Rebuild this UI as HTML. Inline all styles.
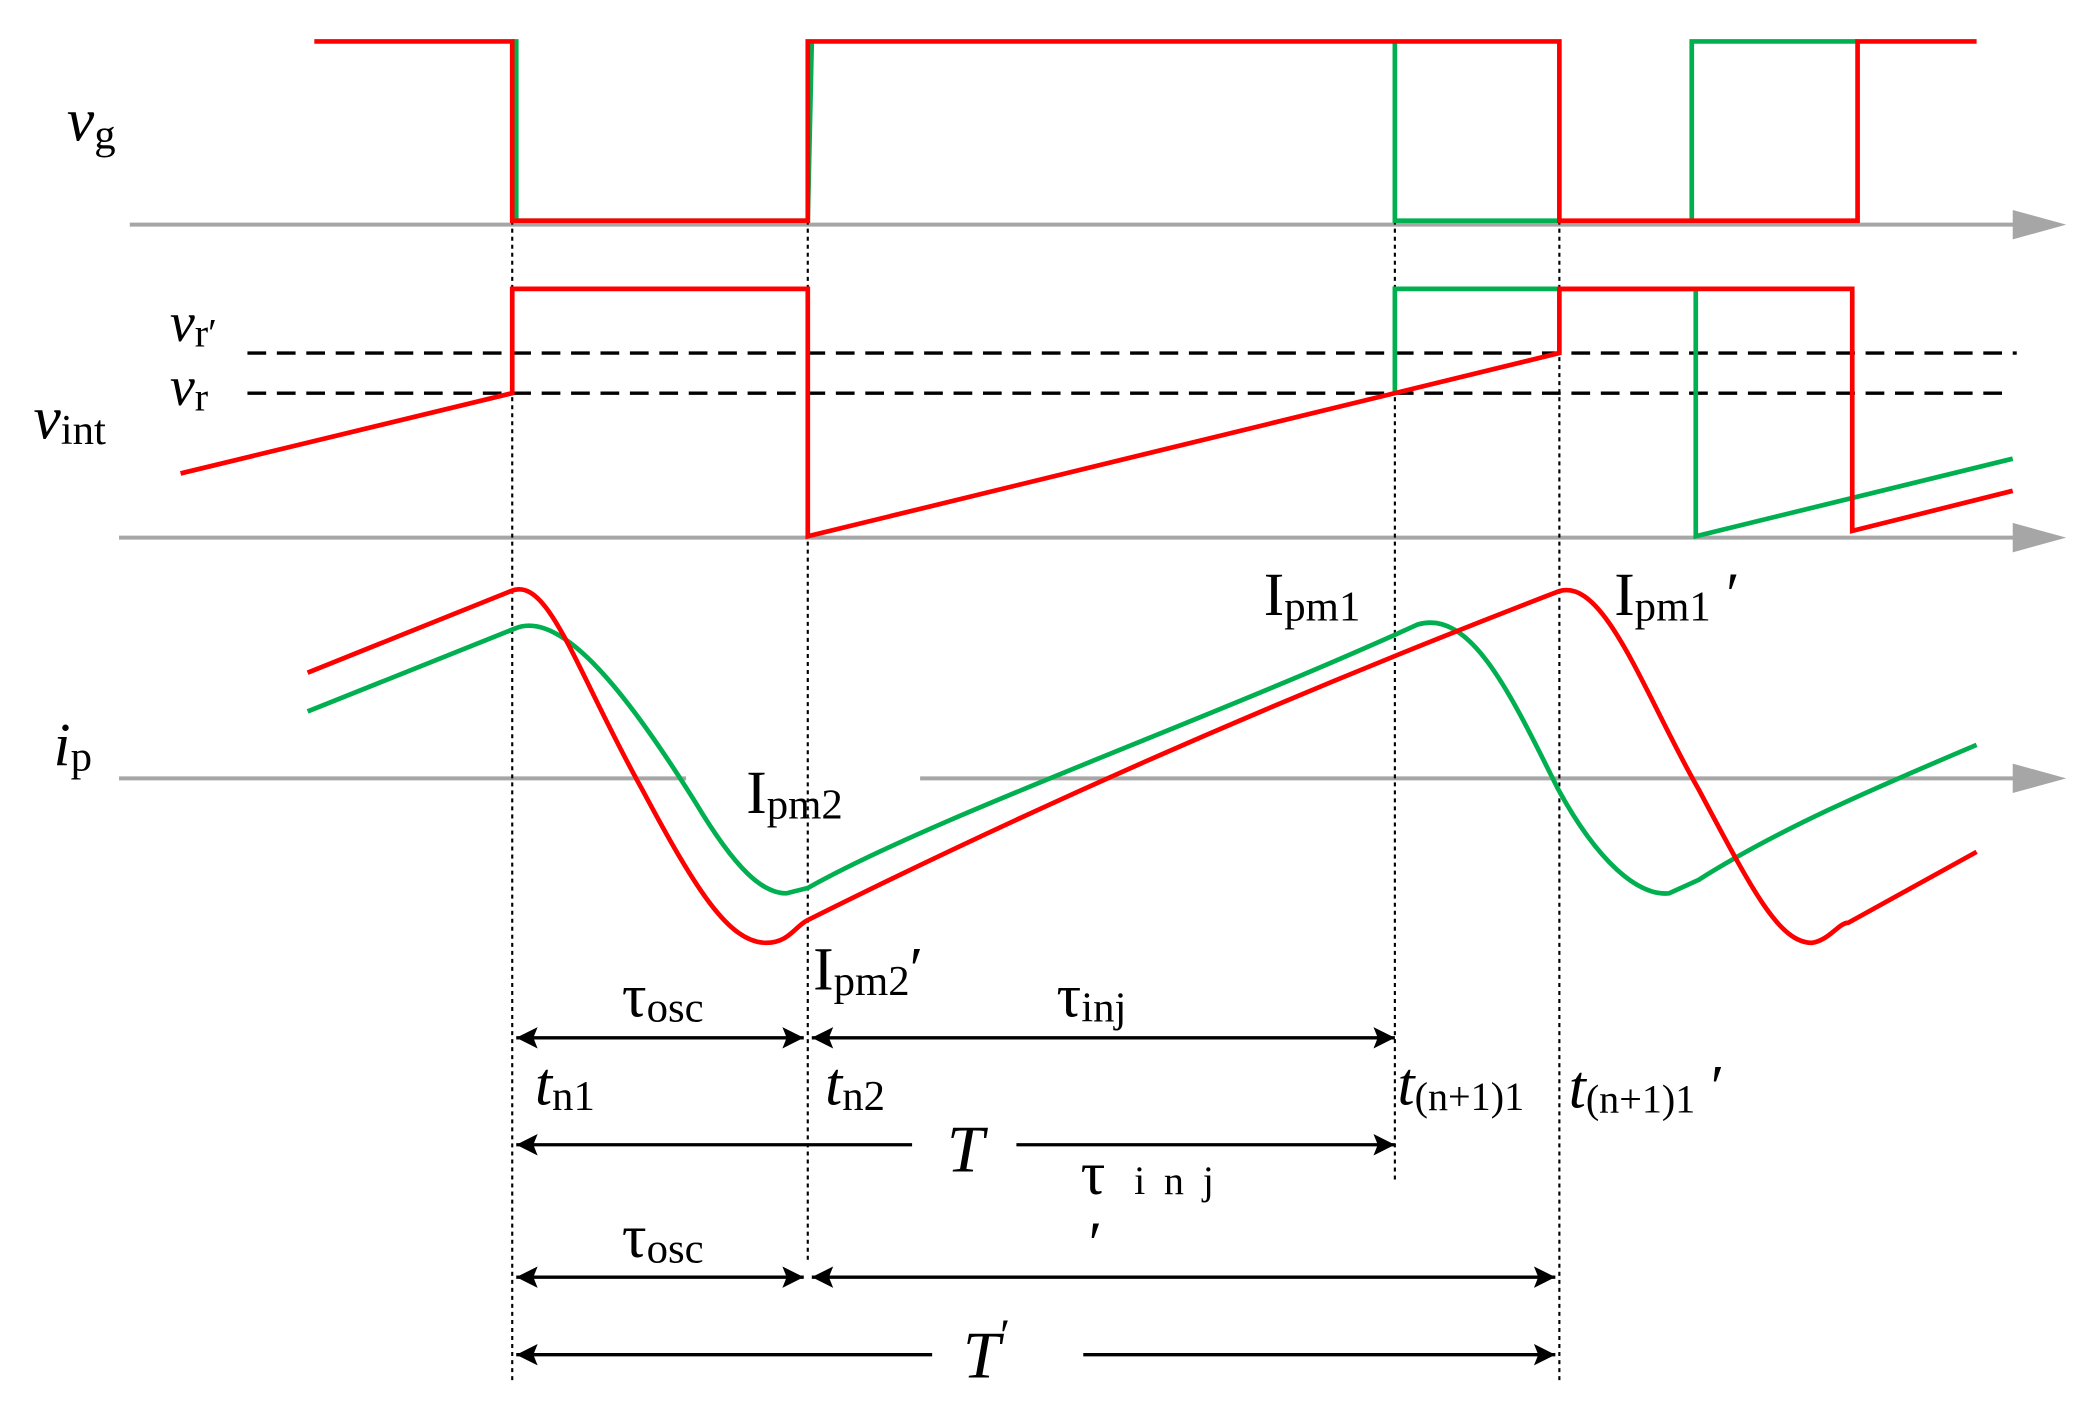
<!DOCTYPE html>
<html><head><meta charset="utf-8"><style>
html,body{margin:0;padding:0;background:#fff;}
svg{display:block;}
text{font-family:"Liberation Serif",serif;fill:#000;}
.it{font-style:italic;}
</style></head><body>
<svg width="2097" height="1405" viewBox="0 0 1568 1050.6" xmlns="http://www.w3.org/2000/svg">
<defs>
<marker id="ah" viewBox="0 0 10 10" refX="10" refY="5" markerWidth="22" markerHeight="16" markerUnits="userSpaceOnUse" orient="auto-start-reverse"><path d="M0,0 L10,5 L0,10 L2,5 Z" fill="#000"/></marker>
</defs>
<g stroke="#a6a6a6" stroke-width="3" fill="none">
<line x1="97" y1="168" x2="1512" y2="168"/>
<line x1="89" y1="402" x2="1512" y2="402"/>
<line x1="89" y1="582" x2="513" y2="582"/>
<line x1="688" y1="582" x2="1512" y2="582"/>
</g>
<g fill="#a6a6a6">
<path d="M1505,157 L1545,168 L1505,179 Z"/>
<path d="M1505,391 L1545,402 L1505,413 Z"/>
<path d="M1505,571 L1545,582 L1505,593 Z"/>
</g>
<g stroke="#000" stroke-width="2.5" stroke-dasharray="14,8">
<line x1="185" y1="264" x2="1508" y2="264"/>
<line x1="185" y1="294" x2="1497" y2="294"/>
</g>
<g stroke="#000" stroke-width="1.6" stroke-dasharray="3,3">
<line x1="383" y1="165" x2="383" y2="1032"/>
<line x1="604" y1="165" x2="604" y2="945"/>
<line x1="1043" y1="165" x2="1043" y2="882"/>
<line x1="1166" y1="165" x2="1166" y2="1032"/>
</g>
<g stroke="#00b050" stroke-width="3.5" fill="none">
<polyline points="383,31 386,31 386,165 604,165 607,31"/>
<polyline points="1043,31 1043,165 1166,165"/>
<polyline points="1265,165 1265,31 1389,31"/>
<polyline points="1043,294 1043,216 1268,216 1268,401 1505,343"/>
<path d="M230,532 L385,470 C420,455 470,520 520,600 C550,650 570,668 588,668 L604,664 C700,610 900,540 1060,467 C1100,455 1130,520 1165,590 C1195,645 1225,670 1248,668 L1270,658 C1330,620 1400,590 1478,557"/>
</g>
<g stroke="#ff0000" stroke-width="3.5" fill="none">
<polyline points="235,31 383,31 383,165 604,165 604,31 1166,31 1166,165 1389,165 1389,31 1478,31"/>
<polyline points="135,354 383,294 383,216 604,216 604,401 1166,264 1166,216 1385,216 1385,397 1505,367"/>
<path d="M230,503 L382,442 C410,430 430,500 480,590 C520,665 545,705 573,705 C590,705 595,692 604,688 C760,610 950,525 1166,442 C1200,432 1230,520 1270,590 C1310,665 1330,705 1355,705 C1368,703 1375,690 1382,690 L1478,637"/>
</g>
<g stroke="#000" stroke-width="2.5" fill="none" marker-start="url(#ah)" marker-end="url(#ah)">
<line x1="386" y1="776" x2="601" y2="776"/>
<line x1="607" y1="776" x2="1043" y2="776"/>
<line x1="386" y1="955" x2="601" y2="955"/>
<line x1="607" y1="955" x2="1163" y2="955"/>
</g>
<g stroke="#000" stroke-width="2.5" fill="none">
<line x1="386" y1="856" x2="682" y2="856" marker-start="url(#ah)"/>
<line x1="760" y1="856" x2="1043" y2="856" marker-end="url(#ah)"/>
<line x1="386" y1="1013" x2="697" y2="1013" marker-start="url(#ah)"/>
<line x1="810" y1="1013" x2="1163" y2="1013" marker-end="url(#ah)"/>
</g>
<g font-size="46">
<text x="50" y="105" class="it">v<tspan font-style="normal" font-size="32" dy="6">g</tspan></text>
<text x="25" y="328" class="it">v<tspan font-style="normal" font-size="32" dy="4">int</tspan></text>
<text x="127" y="255" class="it" font-size="42">v<tspan font-style="normal" font-size="30" dy="4">r′</tspan></text>
<text x="127" y="303" class="it" font-size="42">v<tspan font-style="normal" font-size="30" dy="4">r</tspan></text>
<text x="40" y="572" class="it">i<tspan font-style="normal" font-size="32" dy="4">p</tspan></text>
<text x="945" y="460">I<tspan font-size="32" dy="4">pm1</tspan></text>
<text x="1207" y="460">I<tspan font-size="32" dy="4">pm1</tspan><tspan dy="-4"> ′</tspan></text>
<text x="558" y="608">I<tspan font-size="32" dy="4">pm2</tspan></text>
<text x="608" y="740">I<tspan font-size="32" dy="4">pm2</tspan><tspan dy="-4">′</tspan></text>
<text x="465" y="760">τ<tspan font-size="32" dy="4">osc</tspan></text>
<text x="790" y="760">τ<tspan font-size="32" dy="4">inj</tspan></text>
<text x="400" y="826" class="it">t<tspan font-style="normal" font-size="32" dy="4">n1</tspan></text>
<text x="617" y="826" class="it">t<tspan font-style="normal" font-size="32" dy="4">n2</tspan></text>
<text x="1045" y="826" class="it">t<tspan font-style="normal" font-size="30" dy="4">(n+1)1</tspan></text>
<text x="1173" y="828" class="it">t<tspan font-style="normal" font-size="30" dy="4">(n+1)1</tspan><tspan font-style="normal" dy="-4"> ′</tspan></text>
<text x="708" y="876" class="it" font-size="50">T</text>
<text x="808" y="893">τ<tspan font-size="30" letter-spacing="14"> inj</tspan></text>
<text x="465" y="940">τ<tspan font-size="32" dy="4">osc</tspan></text>
<text x="814" y="945">′</text>
<text x="720" y="1030" class="it" font-size="50">T<tspan font-style="normal" font-size="34" dy="-20">′</tspan></text>
</g>
</svg>
</body></html>
